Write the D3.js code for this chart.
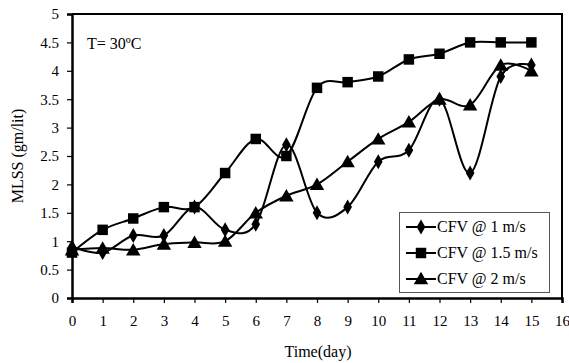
<!DOCTYPE html>
<html>
<head>
<meta charset="utf-8">
<script src="https://cdn.jsdelivr.net/npm/d3@7"></script>
<style>
  body { margin: 0; background: #fff; }
  text { font-family: "Times New Roman", "Liberation Serif", "DejaVu Serif", serif; fill: #000; }
</style>
</head>
<body>
<svg id="chart" width="569" height="363"></svg>
<script>
// Data
var days = [0, 1, 2, 3, 4, 5, 6, 7, 8, 9, 10, 11, 12, 13, 14, 15];
var cfv1 = [0.9, 0.8, 1.1, 1.1, 1.6, 1.2, 1.3, 2.7, 1.5, 1.6, 2.4, 2.6, 3.5, 2.2, 3.9, 4.1];
var cfv15 = [0.8, 1.2, 1.4, 1.6, 1.6, 2.2, 2.8, 2.5, 3.7, 3.8, 3.9, 4.2, 4.3, 4.5, 4.5, 4.5];
var cfv2 = [0.85, 0.88, 0.85, 0.95, 0.98, 1.0, 1.5, 1.8, 2.0, 2.4, 2.8, 3.1, 3.5, 3.4, 4.1, 4.0];
var seriesNames = ["CFV @ 1 m/s", "CFV @ 1.5 m/s", "CFV @ 2 m/s"];
var xTicks = d3.range(0, 17, 1);
var yTicks = [0, 0.5, 1, 1.5, 2, 2.5, 3, 3.5, 4, 4.5, 5];

var svg = d3.select("#chart"),
    plotLeft = 72, plotRight = 562, plotTop = 14, plotBottom = 298;

var x = d3.scaleLinear().domain([0, 16]).range([plotLeft, plotRight]);
var y = d3.scaleLinear().domain([0, 5]).range([plotBottom, plotTop]);

// Frame (top and right)
svg.append("path")
    .attr("d", "M" + plotLeft + "," + plotTop + "H" + plotRight + "V" + plotBottom)
    .attr("fill", "none").attr("stroke", "#000").attr("stroke-width", 2);

// Axes
var yAxis = svg.append("g").attr("transform", "translate(" + plotLeft + ",0)")
    .call(d3.axisLeft(y).tickValues(yTicks).tickSize(5).tickPadding(8)
      .tickFormat(function(d) { return d; }));
var xAxis = svg.append("g").attr("transform", "translate(0," + plotBottom + ")")
    .call(d3.axisBottom(x).tickValues(xTicks).tickSize(5).tickPadding(12));

[yAxis, xAxis].forEach(function(g) {
  g.attr("font-family", null).attr("font-size", null);
  g.select(".domain").attr("stroke-width", 2.5);
  g.selectAll(".tick line").attr("stroke-width", 1.2);
  g.selectAll("text").style("font-size", "15px");
});

// Axis titles
svg.append("text").attr("x", 318).attr("y", 357)
    .attr("text-anchor", "middle").style("font-size", "16px").text("Time(day)");
svg.append("text").attr("transform", "translate(23,156) rotate(-90)")
    .attr("text-anchor", "middle").style("font-size", "16px").text("MLSS (gm/lit)");

svg.append("text").attr("x", 87).attr("y", 49).style("font-size", "16px").text("T= 30ºC");

// Lines
var allSeries = [cfv1, cfv15, cfv2];
var symbols = [d3.symbolDiamond, d3.symbolSquare, d3.symbolTriangle];
var symSizes = [65, 110, 90];

var line = d3.line()
    .x(function(d, i) { return x(days[i]); })
    .y(function(d) { return y(d); })
    .curve(d3.curveCardinal.tension(0));

allSeries.forEach(function(s, k) {
  svg.append("path").datum(s)
      .attr("d", line)
      .attr("fill", "none").attr("stroke", "#000").attr("stroke-width", 2);
  svg.append("g").selectAll("path").data(s).enter().append("path")
      .attr("transform", function(d, i) {
        var dy = k == 2 ? 1.5 : 0;
        return "translate(" + x(days[i]) + "," + (y(d) + dy) + ")";
      })
      .attr("d", d3.symbol().type(symbols[k]).size(symSizes[k]))
      .attr("fill", "#000");
});

// Legend
var lg = svg.append("g");
lg.append("rect").attr("x", 399.5).attr("y", 212.5).attr("width", 150).attr("height", 80)
    .attr("fill", "#fff").attr("stroke", "#555").attr("stroke-width", 1);
seriesNames.forEach(function(name, k) {
  var ly = 227 + k * 26;
  lg.append("line").attr("x1", 406).attr("x2", 436).attr("y1", ly).attr("y2", ly)
      .attr("stroke", "#000").attr("stroke-width", 2);
  lg.append("path").attr("transform", "translate(421," + (ly + (k == 2 ? 1 : 0)) + ")")
      .attr("d", d3.symbol().type(symbols[k]).size(symSizes[k])).attr("fill", "#000");
  lg.append("text").attr("x", 437).attr("y", ly + 5).style("font-size", "16px").text(name);
});
</script>
</body>
</html>
